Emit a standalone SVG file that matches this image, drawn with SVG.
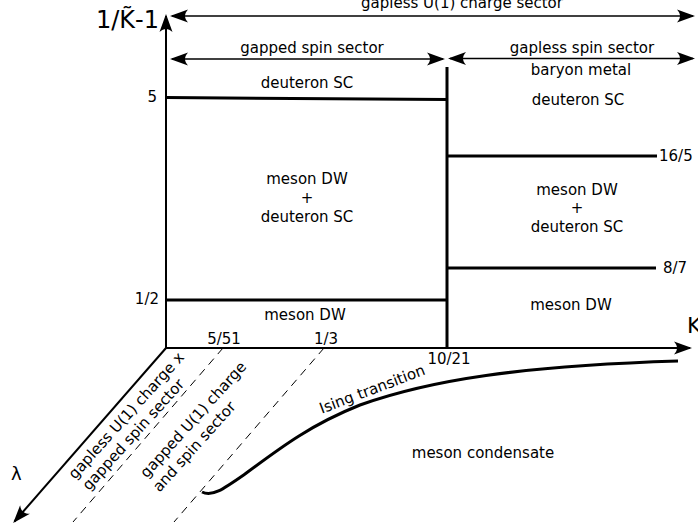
<svg xmlns="http://www.w3.org/2000/svg" width="698" height="531" viewBox="0 0 698 531">
<defs>
<style>
text{font-family:"DejaVu Sans","Liberation Sans",sans-serif;font-size:15px;fill:#000}
.c{text-anchor:middle}
.e{text-anchor:end}
.big{font-size:24px}
.ax{stroke:#000;stroke-width:2;fill:none}
.ar{stroke:#000;stroke-width:1.4;fill:none}
.b{stroke:#000;stroke-width:3;fill:none}
.d{stroke:#000;stroke-width:1;fill:none;stroke-dasharray:8,6}
</style>
<marker id="ah" markerUnits="userSpaceOnUse" markerWidth="24" markerHeight="16" viewBox="-18 -8 22 16" refX="0" refY="0" orient="auto-start-reverse" overflow="visible">
<path d="M2,0 L-16,-6.5 C-12,-2 -12,2 -16,6.5 Z" fill="#000"/>
</marker>
</defs>
<rect width="698" height="531" fill="#fff"/>
<g id="connectors">
<line class="ax" x1="166" y1="349" x2="166" y2="16" marker-end="url(#ah)"/>
<line class="ax" x1="165" y1="348" x2="690" y2="348" marker-end="url(#ah)"/>
<line class="ax" x1="166" y1="348" x2="14.5" y2="521.5" marker-end="url(#ah)"/>
<line class="ar" x1="172" y1="16" x2="693" y2="16" marker-start="url(#ah)" marker-end="url(#ah)"/>
<line class="ar" x1="172" y1="59" x2="443" y2="59" marker-start="url(#ah)" marker-end="url(#ah)"/>
<line class="ar" x1="450" y1="58.5" x2="693" y2="58.5" marker-start="url(#ah)" marker-end="url(#ah)"/>
<line class="b" x1="447" y1="67" x2="447" y2="348"/>
<line class="b" x1="166" y1="97.5" x2="447" y2="99.5"/>
<line class="b" x1="166" y1="300" x2="447" y2="300"/>
<line class="b" x1="447" y1="156" x2="657" y2="156"/>
<line class="b" x1="447" y1="268" x2="656" y2="268"/>
<line class="d" x1="223" y1="348" x2="73" y2="522"/>
<line class="d" x1="324" y1="348" x2="174" y2="522"/>
<path class="b" stroke-width="3.5" d="M202,492 C212,497 222,490 245,474 C280,448 310,425 360,405 C430,380 520,366 678,361"/>
</g>
<g id="axis-labels">
<text class="big" x="96" y="28">1/K&#771;-1</text>
<text x="687" y="333" style="font-size:22px">K</text>
<text x="11" y="480" style="font-size:18px">λ</text>
<text class="e" x="157" y="102">5</text>
<text class="e" x="159" y="304">1/2</text>
<text class="c" x="224" y="344">5/51</text>
<text class="c" x="326" y="344">1/3</text>
<text class="c" x="449" y="364">10/21</text>
<text x="659" y="161">16/5</text>
<text x="663" y="273">8/7</text>
</g>
<g id="sector-labels">
<text class="c" x="462" y="8">gapless U(1) charge sector</text>
<text class="c" x="312" y="53">gapped spin sector</text>
<text class="c" x="582" y="53">gapless spin sector</text>
</g>
<g id="region-deuteron-top">
<text class="c" x="307" y="88">deuteron SC</text>
</g>
<g id="region-mixed-left">
<text class="c" x="307" y="184">meson DW</text>
<text class="c" x="307" y="203">+</text>
<text class="c" x="307" y="222">deuteron SC</text>
</g>
<g id="region-meson-left">
<text class="c" x="305" y="320">meson DW</text>
</g>
<g id="region-baryon">
<text class="c" x="581" y="75">baryon metal</text>
<text class="c" x="578" y="105">deuteron SC</text>
</g>
<g id="region-mixed-right">
<text class="c" x="577" y="195">meson DW</text>
<text class="c" x="577" y="213">+</text>
<text class="c" x="577" y="232">deuteron SC</text>
</g>
<g id="region-meson-right">
<text class="c" x="571" y="310">meson DW</text>
</g>
<g id="region-condensate">
<text class="c" x="483" y="458">meson condensate</text>
</g>
<g id="ising-label">
<text class="c" transform="translate(374,394) rotate(-20.7)">Ising transition</text>
</g>
<g id="lambda-labels">
<text class="c" transform="translate(130,419) rotate(-48)">gapless U(1) charge x</text>
<text class="c" transform="translate(137,438) rotate(-48)">gapped spin sector</text>
<text class="c" transform="translate(197,423) rotate(-48)">gapped U(1) charge</text>
<text class="c" transform="translate(198,450) rotate(-48)">and spin sector</text>
</g>
</svg>
